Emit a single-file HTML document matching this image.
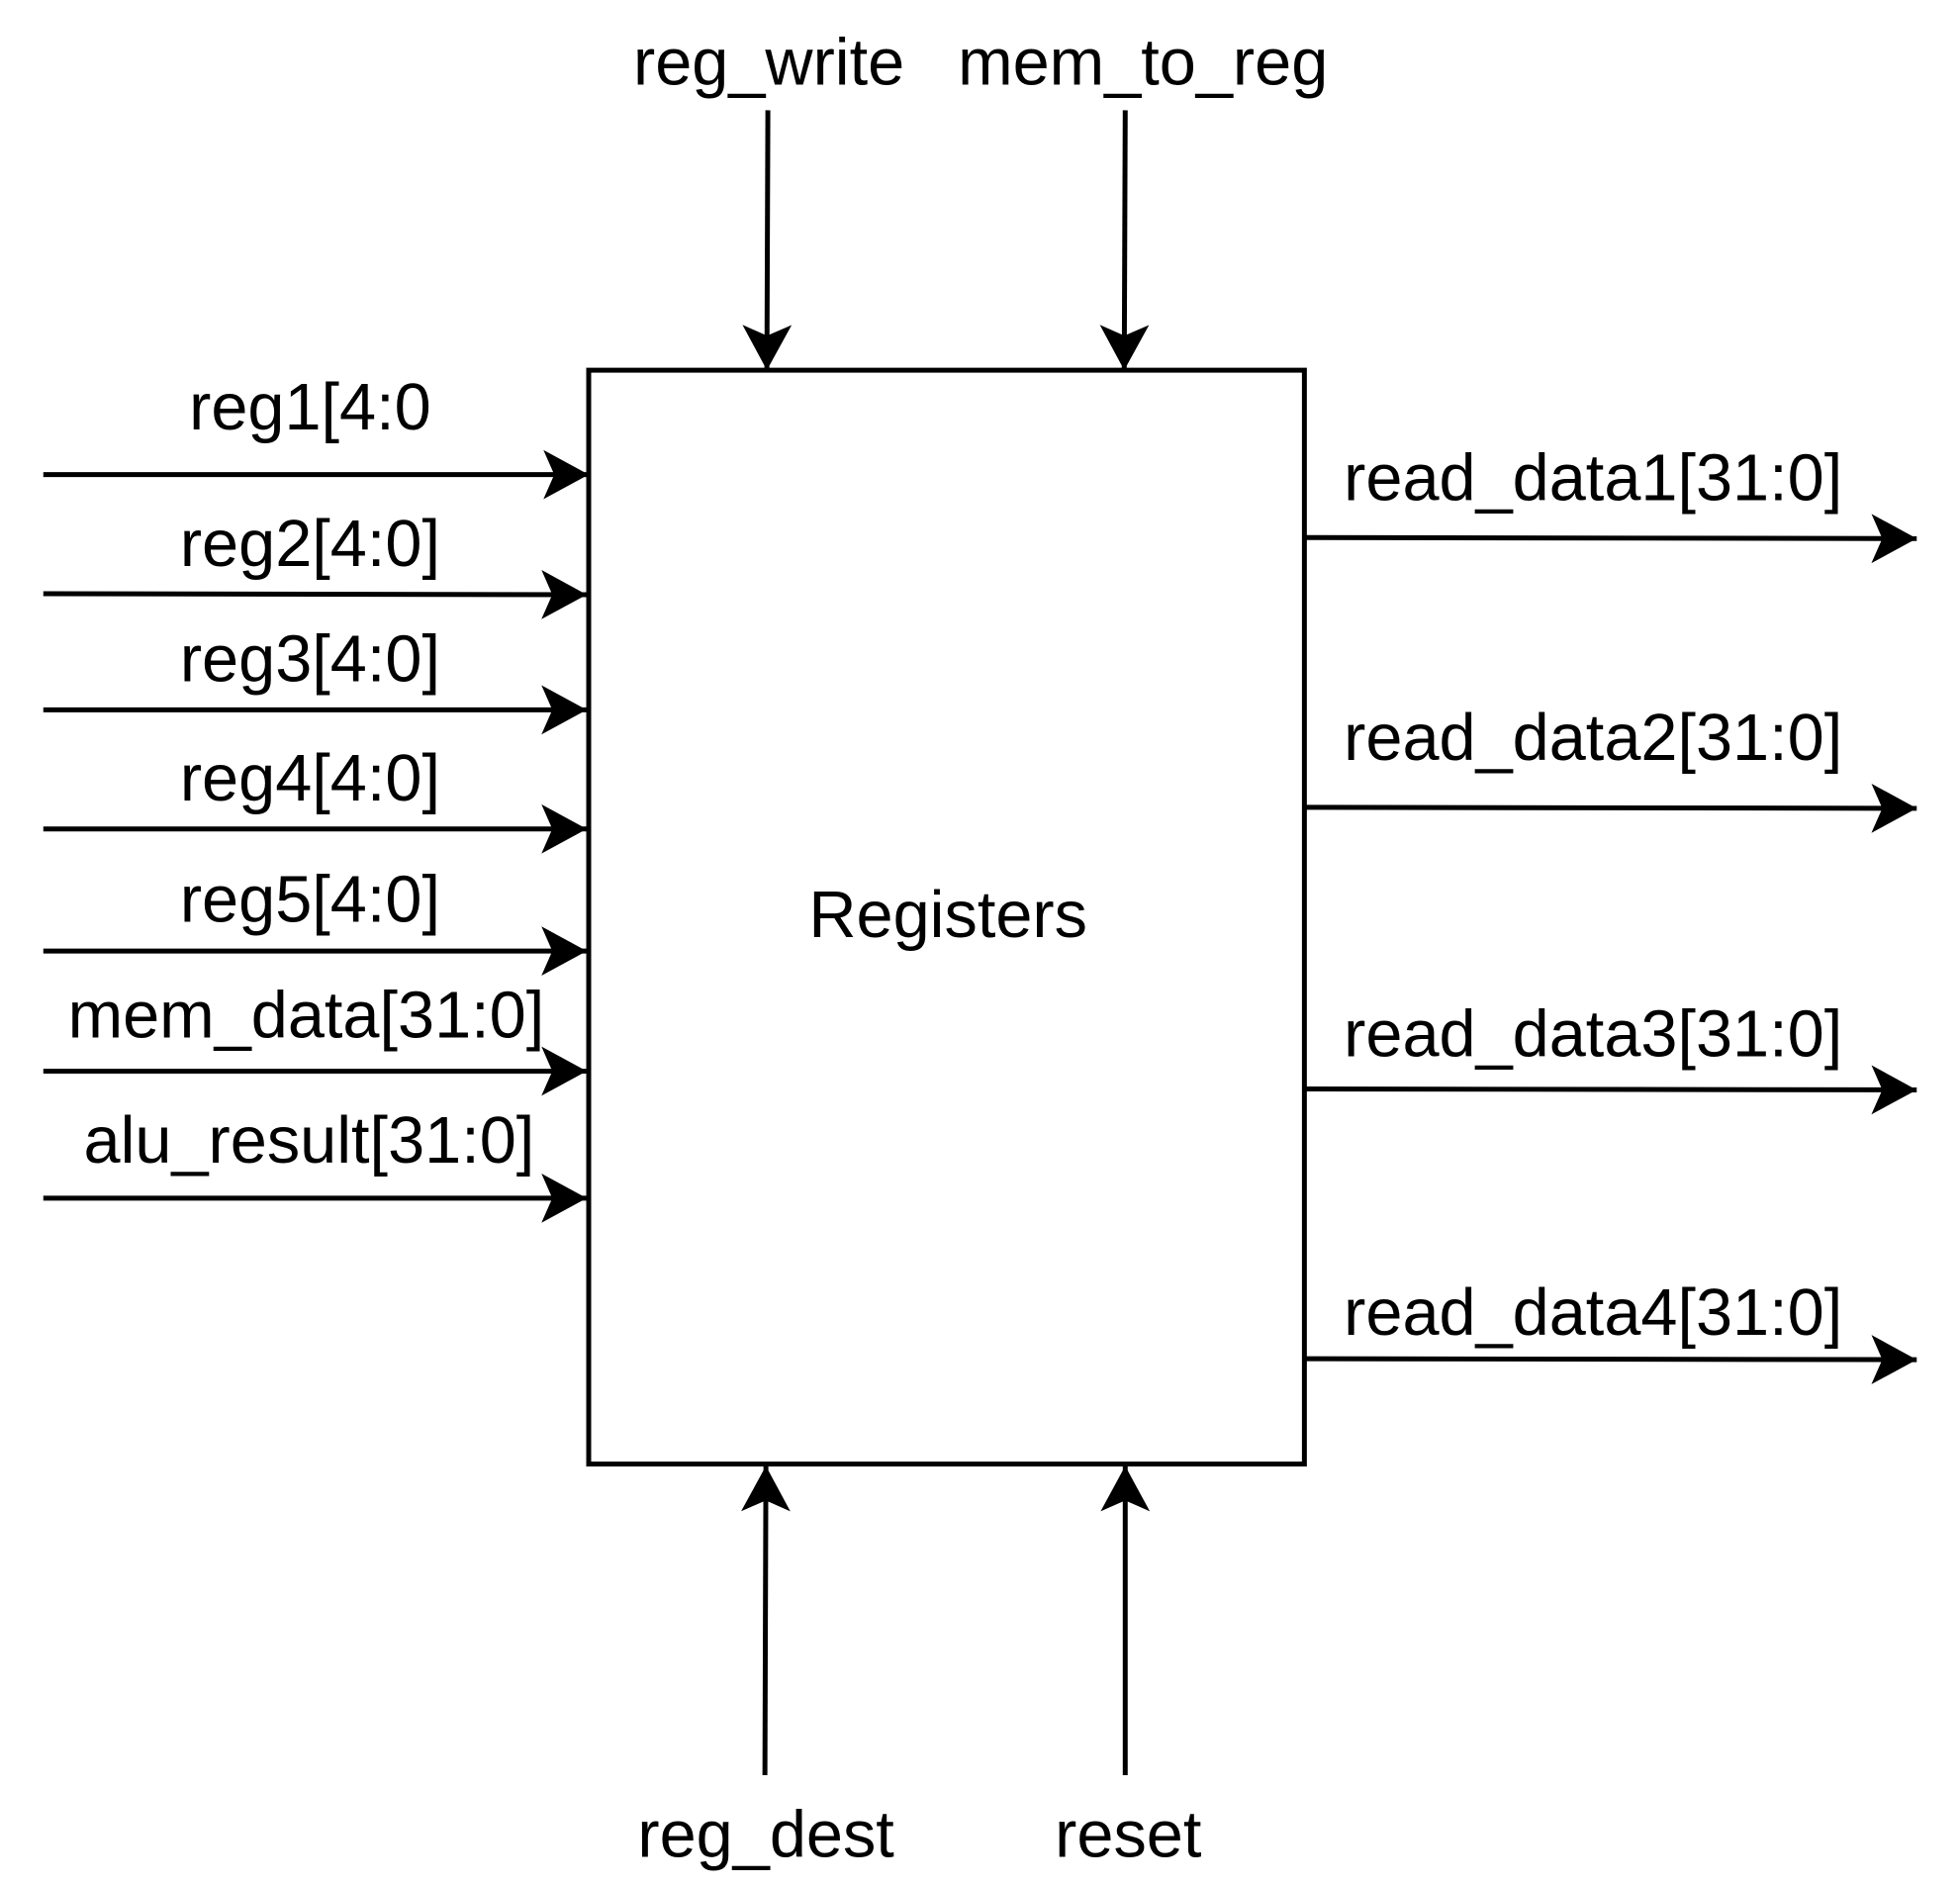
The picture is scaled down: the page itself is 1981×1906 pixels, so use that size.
<!DOCTYPE html>
<html><head><style>html,body{margin:0;padding:0;background:#fff}svg{display:block}</style></head>
<body>
<svg width="1981" height="1906" viewBox="0 0 1981 1906" xmlns="http://www.w3.org/2000/svg" font-family="'Liberation Sans', sans-serif" font-size="67">
<defs>
<marker id="a" markerUnits="userSpaceOnUse" markerWidth="54" markerHeight="54" viewBox="0 0 54 54" refX="50" refY="27" orient="auto">
<path d="M4,2 L50,27 L4,52 L15,27 Z" fill="#000"/>
</marker>
</defs>
<g transform="scale(0.995)">
<rect x="598" y="376" width="727" height="1111" fill="#fff" stroke="#000" stroke-width="5"/>
<g stroke="#000" stroke-width="5" fill="none" marker-end="url(#a)">
<line x1="44" y1="482" x2="598" y2="482"/>
<line x1="44" y1="603" x2="596" y2="604"/>
<line x1="44" y1="721" x2="596" y2="721"/>
<line x1="44" y1="842" x2="596" y2="842"/>
<line x1="44" y1="966" x2="596" y2="966"/>
<line x1="44" y1="1088" x2="596" y2="1088"/>
<line x1="44" y1="1217" x2="596" y2="1217"/>
<line x1="780" y1="112" x2="779" y2="376"/>
<line x1="1143" y1="112" x2="1142" y2="376"/>
<line x1="777" y1="1803" x2="778" y2="1489"/>
<line x1="1143" y1="1803" x2="1143" y2="1489"/>
<line x1="1325" y1="546" x2="1947" y2="547"/>
<line x1="1325" y1="820" x2="1947" y2="821"/>
<line x1="1325" y1="1106" x2="1947" y2="1107"/>
<line x1="1325" y1="1380" x2="1947" y2="1381"/>
</g>
<g fill="#000" text-anchor="middle">
<text x="315" y="436">reg1[4:0</text>
<text x="315" y="575">reg2[4:0]</text>
<text x="315" y="692">reg3[4:0]</text>
<text x="315" y="813">reg4[4:0]</text>
<text x="315" y="936">reg5[4:0]</text>
<text x="311" y="1054">mem_data[31:0]</text>
<text x="314" y="1181">alu_result[31:0]</text>
<text x="781" y="86">reg_write</text>
<text x="1161" y="86">mem_to_reg</text>
<text x="778" y="1886">reg_dest</text>
<text x="1146" y="1886">reset</text>
<text x="963" y="952">Registers</text>
</g>
<g fill="#000">
<text x="1365" y="508">read_data1[31:0]</text>
<text x="1365" y="772">read_data2[31:0]</text>
<text x="1365" y="1073">read_data3[31:0]</text>
<text x="1365" y="1356">read_data4[31:0]</text>
</g>
</g>
</svg>
</body></html>
